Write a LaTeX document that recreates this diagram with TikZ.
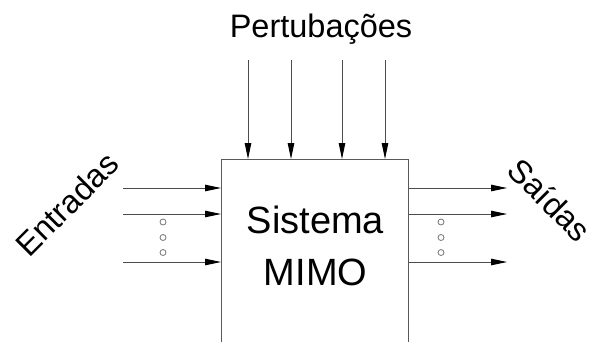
\documentclass[tikz,border=0pt]{standalone}
\usepackage{fontspec}
\setmainfont{Liberation Sans}
\usetikzlibrary{arrows.meta}
\begin{document}
\begin{tikzpicture}[x=1pt,y=-1pt,
  arr/.style={draw=black!70, line width=0.9pt, -{Triangle[length=16pt,width=6.5pt,fill=black,color=black]}},
  dot/.style={circle, draw=black!55, line width=0.8pt, inner sep=0pt, minimum size=6pt},
  sysbox/.style={draw=black!65, line width=1pt, rectangle, inner sep=0pt, anchor=north west},
  lbl/.style={font=\fontsize{32.5}{32.5}\selectfont, inner sep=0pt}]
\useasboundingbox (0,0) rectangle (594,341);
\clip (0,0) rectangle (594,341);
\node[sysbox, minimum width=187pt, minimum height=200pt] (box) at (221,159) {};
\node[font=\fontsize{38}{52}\selectfont, align=center, inner sep=0pt] (txt) at (315.5,246) {Sistema\\MIMO};
\node[lbl, anchor=base] (pert) at (321,37) {Pertubações};
\node[lbl, rotate=45] (ent) at (67,204) {Entradas};
\node[lbl, rotate=-45] (sai) at (550,200) {Saídas};
% top arrows
\foreach \i/\x in {1/248,2/291,3/342,4/385}{
  \coordinate (t\i) at (\x,60);
  \draw[arr] (t\i) -- (t\i |- box.north);
}
% inputs and outputs
\foreach \i/\y in {1/188,2/214,3/262}{
  \coordinate (a\i) at (123,\y);
  \draw[arr] (a\i) -- (a\i -| box.west);
  \coordinate (b\i) at (507,\y);
  \draw[arr] (b\i -| box.east) -- (b\i);
}
\foreach \j/\y in {1/222,2/237.5,3/252.5}{
  \node[dot] (dl\j) at (163,\y) {};
  \node[dot] (dr\j) at (441,\y) {};
}
\end{tikzpicture}
\end{document}
